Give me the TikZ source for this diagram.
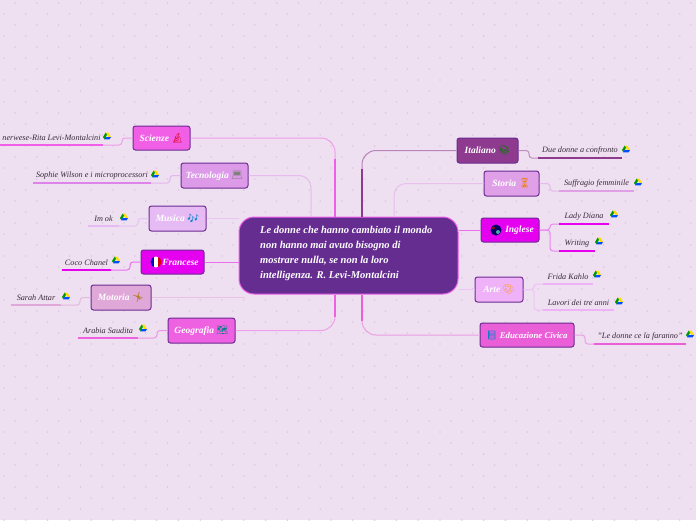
\documentclass[tikz,border=0pt]{standalone}
\usepackage{fontspec}
\setmainfont{Liberation Serif}
\newfontfamily\emojifont{Noto Emoji}
\definecolor{paper}{HTML}{EEDFF1}
\definecolor{speck}{HTML}{DDC9E2}
\definecolor{rootfill}{HTML}{662D91}
\definecolor{rootline}{HTML}{F062EA}
\definecolor{boxline}{HTML}{6B2C91}
\definecolor{inkleaf}{HTML}{3A2A3A}
\definecolor{sciencepink}{HTML}{F05FE6}
\definecolor{techlilac}{HTML}{DC9AE8}
\definecolor{musiclilac}{HTML}{E6BBF3}
\definecolor{frenchmag}{HTML}{E600F0}
\definecolor{motormauve}{HTML}{E0A8D8}
\definecolor{geopink}{HTML}{EE62E2}
\definecolor{italplum}{HTML}{8E3A8E}
\definecolor{storylilac}{HTML}{E0A0E8}
\definecolor{artlilac}{HTML}{EFB2F9}
\definecolor{civicpink}{HTML}{EA5FD8}
\tikzset{
  topic/.style={draw=boxline,line width=1pt,rounded corners=2.5pt,inner sep=0pt,
    text=white,font=\itshape\bfseries\fontsize{9.5}{10}\selectfont},
  leaf/.style={inner sep=0pt,minimum height=15pt,anchor=south,text=inkleaf,
    font=\itshape\fontsize{8.2}{9}\selectfont},
  link/.style={line width=1pt,rounded corners=#1},
  link/.default=5pt,
  driveicon/.pic={
    \fill[yellow!80!orange] (-1.3,-3.5) -- (1.3,-3.5) -- (4,1) -- (1.4,1) -- cycle;
    \fill[green!60!black] (-1.3,-3.5) -- (0,-1.2) -- (-2.6,3.3) -- (-4,1) -- cycle;
    \fill[blue!70!cyan] (-1.4,1) -- (4,1) -- (2.6,3.3) -- (-2.6,3.3) -- cycle;
  }
}
\begin{document}
\begin{tikzpicture}[x=1pt,y=-1pt]
\useasboundingbox (0,0) rectangle (696,520);
\fill[paper] (0,0) rectangle (696,520);
% background dots
\foreach \i in {0,...,32}
  \foreach \j in {0,...,23}{
    \fill[speck] (\i*21.8+15,\j*22+3) circle (0.9);
    \fill[speck] (\i*21.8+4,\j*22+14) circle (0.9);
  }

% centre
\node[draw=rootline,fill=rootfill,line width=1pt,rounded corners=15pt,minimum width=219pt,minimum height=77pt,inner sep=0pt] (root) at (348.5,255.5) {};
\node[anchor=north west,inner sep=0pt,text=white,align=left,font=\itshape\bfseries\fontsize{10.5}{15}\selectfont] (roottext) at (260,226)
  {Le donne che hanno cambiato il mondo\\non hanno mai avuto bisogno di\\mostrare nulla, se non la loro\\intelligenza. R. Levi-Montalcini};

% topics left
\node[topic,fill=sciencepink,minimum width=57pt,minimum height=24pt] (scienze) at (161.5,138) {Scienze {\emojifont\color{red!60!purple}🔬}};
\node[topic,fill=techlilac,minimum width=67pt,minimum height=25pt] (tecnologia) at (214.5,175.5) {Tecnologia {\emojifont\color{gray}💻}};
\node[topic,fill=musiclilac,minimum width=57pt,minimum height=25pt] (musica) at (177.5,218.5) {Musica {\emojifont\color{cyan!70!blue}🎶}};
\node[topic,fill=frenchmag,minimum width=63pt,minimum height=24pt] (francese) at (172.5,262) {\hspace{16pt}Francese};
\node[topic,fill=motormauve,minimum width=60pt,minimum height=25pt] (motoria) at (121,297.5) {Motoria {\emojifont\color{orange!70!teal}🤸}};
\node[topic,fill=geopink,minimum width=67pt,minimum height=25pt] (geografia) at (201.5,330.5) {Geografia {\emojifont\color{teal}🗺}};

% topics right
\node[topic,fill=italplum,minimum width=61pt,minimum height=25pt] (italiano) at (487.5,150.5) {Italiano {\emojifont\color{green!50!black}📚}};
\node[topic,fill=storylilac,minimum width=55pt,minimum height=25pt] (storia) at (511.5,183.5) {Storia {\emojifont\color{orange!70!brown}⏳}};
\node[topic,fill=frenchmag,minimum width=58pt,minimum height=24pt] (inglese) at (510,230) {\hspace{19pt}Inglese};
\node[topic,fill=artlilac,minimum width=48pt,minimum height=25pt] (arte) at (499,289.5) {Arte {\emojifont\color{orange!80!yellow}🎨}};
\node[topic,fill=civicpink,minimum width=94pt,minimum height=24pt,font=\itshape\bfseries\fontsize{8.8}{10}\selectfont] (civica) at (527,335) {{\emojifont\color{cyan!60!blue}📘} Educazione Civica};

% flags
\begin{scope}
\clip (156,262) circle (5.5);
\fill[blue!70!black] (150,256) rectangle (154.2,268);
\fill[white] (154.2,256) rectangle (157.8,268);
\fill[red!85!black] (157.8,256) rectangle (162,268);
\end{scope}
\fill[blue!40!black] (496,230) circle (5.5);
\fill[red!70!black] (493.5,228) circle (1.6);
\fill[teal!70!white] (498,232) circle (2);

% root links
\coordinate (bendscienze) at (335,138);
\coordinate (bendtecno) at (311,175.5);
\coordinate (bendgeo) at (335,330.5);
\coordinate (benditaliano) at (362,150.5);
\coordinate (bendstoria) at (394,183.5);
\coordinate (bendcivica) at (362,335);
\draw[link=14pt,sciencepink!50!paper] (scienze.east) -- (bendscienze) -- (bendscienze |- root.north);
\draw[link=12pt,techlilac!50!paper] (tecnologia.east) -- (bendtecno) -- (bendtecno |- root.north);
\draw[link,musiclilac!70!paper] (musica.east) -- (musica.east -| root.west);
\draw[link,frenchmag!50!paper] (francese.east) -- (francese.east -| root.west);
\draw[link,motormauve!50!paper] (motoria.east) -- ([xshift=6pt]motoria.east -| root.west);
\draw[link=14pt,geopink!50!paper] (geografia.east) -- (bendgeo) -- (bendgeo |- root.south);
\draw[link=14pt,italplum!55!paper] (italiano.west) -- (benditaliano) -- (benditaliano |- root.north);
\draw[link=12pt,storylilac!50!paper] (storia.west) -- (bendstoria) -- (bendstoria |- root.north);
\draw[link,frenchmag!50!paper] (inglese.west) -- (inglese.west -| root.east);
\draw[link,artlilac!60!paper] (arte.west) -- (arte.west -| root.east);
\draw[link=14pt,civicpink!50!paper] (civica.west) -- (bendcivica) -- (bendcivica |- root.south);
\draw[line width=1.2pt,sciencepink] ([yshift=58pt]bendscienze |- root.north) -- (bendscienze |- root.north);
\draw[line width=1.2pt,geopink] ([yshift=-22pt]bendgeo |- root.south) -- (bendgeo |- root.south);
\draw[line width=1.2pt,italplum] ([yshift=48pt]benditaliano |- root.north) -- (benditaliano |- root.north);
\draw[line width=1.2pt,civicpink] ([yshift=-26pt]bendcivica |- root.south) -- (bendcivica |- root.south);

% leaves left
\node[leaf,minimum width=103pt] (rita) at (51.5,145) {\hfill nerwese-Rita Levi-Montalcini\hspace{6pt}};
\node[leaf,minimum width=118pt] (sophie) at (92,183) {Sophie Wilson e i microprocessori};
\node[leaf,minimum width=31pt] (imok) at (103.5,226) {Im ok};
\node[leaf,minimum width=49pt] (coco) at (86.5,270) {Coco Chanel};
\node[leaf,minimum width=50pt] (sarah) at (36,305) {Sarah Attar};
\node[leaf,minimum width=60pt] (arabia) at (108,338) {Arabia Saudita};

% leaves right
\node[leaf,minimum width=84pt] (duedonne) at (580,158) {Due donne a confronto};
\node[leaf,minimum width=75pt] (suffragio) at (596.5,191) {Suffragio femminile};
\node[leaf,minimum width=50pt] (diana) at (584,224) {Lady Diana};
\node[leaf,minimum width=36pt] (writing) at (577,251) {Writing};
\node[leaf,minimum width=50pt] (frida) at (568,284) {Frida Kahlo};
\node[leaf,minimum width=71pt] (lavori) at (578.5,310) {Lavori dei tre anni};
\node[leaf,minimum width=92pt] (faranno) at (640,344) {"Le donne ce la faranno"};

% drive icons
\pic at (107,136) {driveicon};
\pic at (155,174) {driveicon};
\pic at (124,217) {driveicon};
\pic at (116,260) {driveicon};
\pic at (66,296) {driveicon};
\pic at (143,328) {driveicon};
\pic at (626,149) {driveicon};
\pic at (638,182) {driveicon};
\pic at (614,214) {driveicon};
\pic at (599,241) {driveicon};
\pic at (597,274) {driveicon};
\pic at (619,301) {driveicon};
\pic at (690,334) {driveicon};

% underlines
\draw[sciencepink,line width=2.5pt] (rita.south west) -- (rita.south east);
\draw[techlilac!85!frenchmag,line width=2.5pt] (sophie.south west) -- (sophie.south east);
\draw[musiclilac,line width=2.5pt] (imok.south west) -- (imok.south east);
\draw[frenchmag,line width=2.5pt] (coco.south west) -- (coco.south east);
\draw[motormauve,line width=2.5pt] (sarah.south west) -- (sarah.south east);
\draw[geopink,line width=2.5pt] (arabia.south west) -- (arabia.south east);
\draw[italplum,line width=2.5pt] (duedonne.south west) -- (duedonne.south east);
\draw[storylilac,line width=2.5pt] (suffragio.south west) -- (suffragio.south east);
\draw[frenchmag,line width=2.5pt] (diana.south west) -- (diana.south east);
\draw[frenchmag,line width=2.5pt] (writing.south west) -- (writing.south east);
\draw[artlilac,line width=2.5pt] (frida.south west) -- (frida.south east);
\draw[artlilac,line width=2.5pt] (lavori.south west) -- (lavori.south east);
\draw[civicpink,line width=2.5pt] (faranno.south west) -- (faranno.south east);

% leaf links
\draw[link=3pt,sciencepink!50!paper] (scienze.west) -- (122,138) -- (122,145) -- (rita.south east);
\draw[link=3pt,techlilac!60!paper] (tecnologia.west) -- (170,175.5) -- (170,183) -- (sophie.south east);
\draw[link=3pt,musiclilac!80!paper] (musica.west) -- (138,218.5) -- (138,226) -- (imok.south east);
\draw[link=3pt,frenchmag!50!paper] (francese.west) -- (130,262) -- (130,270) -- (coco.south east);
\draw[link=3pt,motormauve!70!paper] (motoria.west) -- (80,297.5) -- (80,305) -- (sarah.south east);
\draw[link=3pt,geopink!60!paper] (geografia.west) -- (157,330.5) -- (157,338) -- (arabia.south east);
\draw[link=3pt,italplum!50!paper] (italiano.east) -- (529,150.5) -- (529,158) -- (duedonne.south west);
\draw[link=3pt,storylilac!60!paper] (storia.east) -- (550,183.5) -- (550,191) -- (suffragio.south west);
\draw[link=3pt,frenchmag!40!paper] (inglese.east) -- (550,230) -- (550,224) -- (diana.south west);
\draw[link=3pt,frenchmag!40!paper] (inglese.east) -- (550,230) -- (550,251) -- (writing.south west);
\draw[link=3pt,artlilac!60!paper] (arte.east) -- (534,289.5) -- (534,284) -- (frida.south west);
\draw[link=3pt,artlilac!60!paper] (arte.east) -- (534,289.5) -- (534,310) -- (lavori.south west);
\draw[link=3pt,civicpink!50!paper] (civica.east) -- (585,335) -- (585,344) -- (faranno.south west);
\end{tikzpicture}
\end{document}
